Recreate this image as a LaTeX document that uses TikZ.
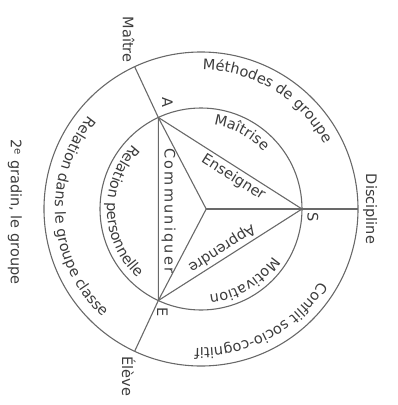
\documentclass[tikz,border=0pt]{standalone}
\usepackage{fontspec}
\setmainfont[Scale=1.45]{DejaVu Sans}
\usetikzlibrary{calc,positioning,decorations.text}
\definecolor{InkGray}{RGB}{60,60,60}
\definecolor{LineGray}{RGB}{105,105,105}

\begin{document}
\begin{tikzpicture}[x=1pt,y=1pt,
    ring/.style={LineGray,line width=1.1pt},
    lab/.style={InkGray,rotate=-90,inner sep=2pt},
    edgelab/.style={InkGray,sloped,allow upside down,inner sep=3pt},
    arctext/.style={decorate,decoration={text along path,text align=center,text color=InkGray,text={#1}}}]
  \useasboundingbox (-201,-196) rectangle (197,209);
  % les deux cercles
  \draw[ring] (0,0) circle[radius=157];
  \draw[ring] (0,0) circle[radius=101];
  \coordinate (A) at (115:101);
  \coordinate (S) at (0:101);
  \coordinate (E) at (-115:101);
  \coordinate (M) at (115:157);
  \coordinate (D) at (0:157);
  \coordinate (L) at (-115:157);
  \coordinate (O) at ($1/3*(A)+1/3*(S)+1/3*(E)$);
  \draw[ring] (A)--(S)--(E)--cycle;
  \foreach \v/\w in {A/M,S/D,E/L}{
    \draw[ring] (O)--(\v);
    \draw[ring] (\v)--(\w);}
  % textes des cotes
  \path (A)--(S) node[edgelab,below,pos=0.56] (ens) {Enseigner};
  \path (S)--(E) node[edgelab,below,pos=0.52] (app) {Apprendre};
  \path (A)--(E) node[edgelab,above,pos=0.51] (com) {\addfontfeature{LetterSpace=15}Communiquer};
  % textes le long des cercles
  \path[arctext={Méthodes de groupe}] (120:139) arc[start angle=120,end angle=-3,radius=139];
  \path[arctext={Conflit socio-cognitif}] (-1:139) arc[start angle=-1,end angle=-123,radius=139];
  \path[arctext={Relation dans le groupe classe}] (124:146) arc[start angle=124,end angle=244,radius=146];
  \path[arctext={Maîtrise}] (100:85) arc[start angle=100,end angle=24,radius=85];
  \path[arctext={Motivation}] (-20:86) arc[start angle=-20,end angle=-98,radius=86];
  \path[arctext={Relation personnelle}] (130:94) arc[start angle=130,end angle=234,radius=94];
  % sommets
  \node[lab] (la) at ($(A)+(9,15)$) {A};
  \node[lab] (ls) at ($(S)+(11,-8)$) {S};
  \node[lab] (le) at ($(E)+(4,-12)$) {E};
  \node[lab,anchor=east] (mai) at ($(M)+(-6,2)$) {Maître};
  \node[lab,anchor=south] (dis) at ($(D)+(3,0)$) {Discipline};
  \node[lab,anchor=west] (ele) at ($(L)+(-6,-3)$) {Élève};
  \node[lab] (gra) at (-186,-3) {2\textsuperscript{e} gradin, le groupe};
\end{tikzpicture}
\end{document}
